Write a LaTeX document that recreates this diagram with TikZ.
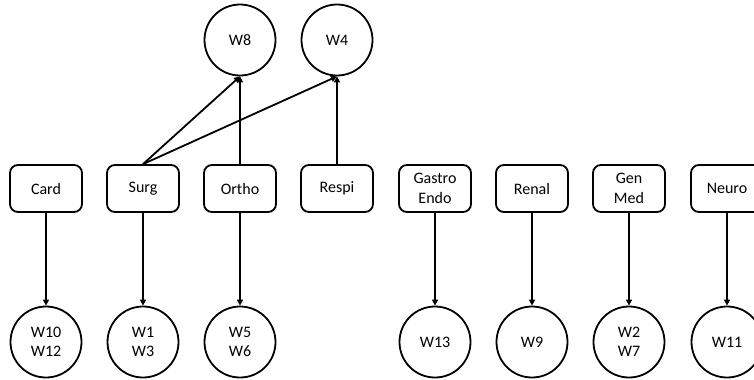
\documentclass[tikz,border=0pt]{standalone}
\usepackage{fontspec}
\setmainfont{Carlito}
\usetikzlibrary{arrows.meta}
\begin{document}
\begin{tikzpicture}[x=1bp,y=-1bp,
  dept/.style={draw,line width=1.8bp,rounded corners=8bp,minimum width=72bp,minimum height=47bp,align=center,inner sep=0pt,font=\fontsize{16bp}{19.5bp}\selectfont},
  ward/.style={draw,circle,line width=1.8bp,minimum size=71bp,align=center,inner sep=0pt,font=\fontsize{16bp}{19.5bp}\selectfont},
  conn/.style={line width=1.8bp,-{Triangle[length=6bp,width=6bp]}}]
\useasboundingbox (0,0) rectangle (754,379);
\clip (0,0) rectangle (754,379);
\node[dept] (card) at (46,188.5) {Card};
\node[dept] (surg) at (143,188.5) {Surg};
\node[dept] (ortho) at (240,188.5) {Ortho};
\node[dept] (respi) at (337,188.5) {Respi};
\node[dept] (gastro) at (435,188.5) {Gastro\\Endo};
\node[dept] (renal) at (532,188.5) {Renal};
\node[dept] (genmed) at (629,188.5) {Gen\\Med};
\node[dept] (neuro) at (727,188.5) {Neuro};
\node[ward] (w8) at (240,40) {W8};
\node[ward] (w4) at (337,40) {W4};
\node[ward] (w1012) at (46,342) {W10\\W12};
\node[ward] (w13) at (143,342) {W1\\W3};
\node[ward] (w56) at (240,342) {W5\\W6};
\node[ward] (w13b) at (435,342) {W13};
\node[ward] (w9) at (532,342) {W9};
\node[ward] (w27) at (629,342) {W2\\W7};
\node[ward] (w11) at (727,342) {W11};
\draw[conn] (surg.north) -- (w8.south);
\draw[conn] (surg.north) -- (w4.south);
\draw[conn] (ortho.north) -- (w8.south);
\draw[conn] (respi.north) -- (w4.south);
\draw[conn] (card.south) -- (w1012.north);
\draw[conn] (surg.south) -- (w13.north);
\draw[conn] (ortho.south) -- (w56.north);
\draw[conn] (gastro.south) -- (w13b.north);
\draw[conn] (renal.south) -- (w9.north);
\draw[conn] (genmed.south) -- (w27.north);
\draw[conn] (neuro.south) -- (w11.north);
\end{tikzpicture}
\end{document}
